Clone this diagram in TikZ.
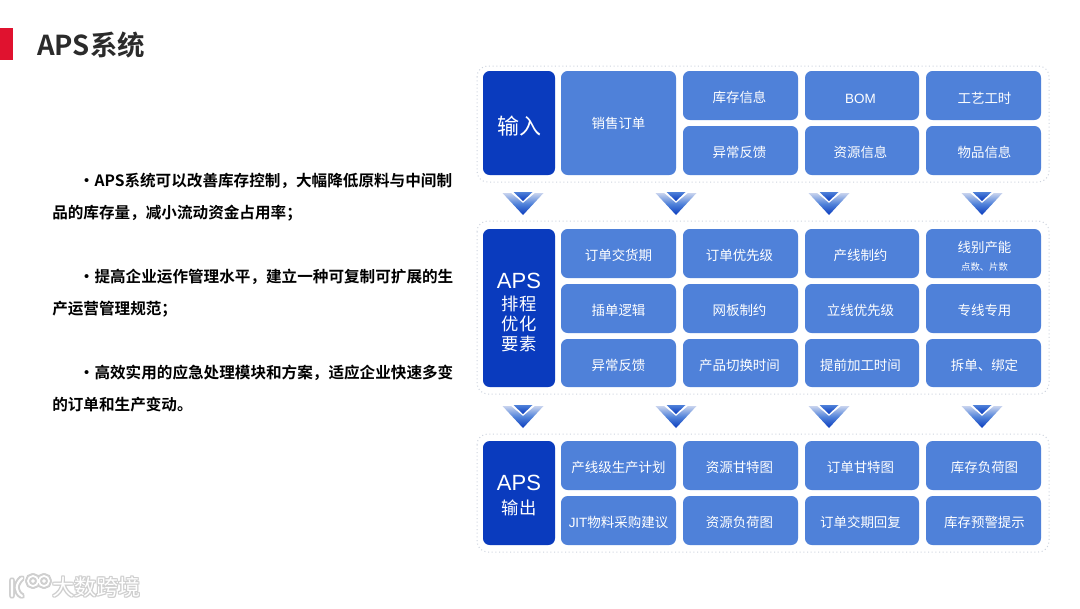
\documentclass[tikz,border=0pt]{standalone}
\usepackage{fontspec}
\setmainfont{Noto Sans CJK SC}[BoldFont=* Bold]
\newfontfamily\latinfont{Liberation Sans}
\definecolor{cellblue}{HTML}{4F81D9}
\definecolor{headblue}{HTML}{0A3BBE}
\definecolor{barred}{HTML}{E0122F}
\definecolor{titlegray}{HTML}{2B2B2B}
\definecolor{panelline}{HTML}{CDD3DE}
\definecolor{wmgray}{HTML}{CFCFCF}
\definecolor{arrowlight}{HTML}{C8D3EE}
\tikzset{
  x=0.75pt,y=-0.75pt,
  panelbox/.style={draw=panelline,dotted,line width=0.75pt,rounded corners=8pt,fill=white},
  cellbox/.style={fill=cellblue,rounded corners=5pt,inner sep=0pt,text=white,font=\fontsize{10.1pt}{12pt}\selectfont,align=center},
  headbox/.style={fill=headblue,rounded corners=5pt,inner sep=0pt,text=white,align=center},
  bodyline/.style={anchor=north west,inner sep=0pt,text=black,font=\bfseries\fontsize{11.7pt}{23.5pt}\selectfont,align=left},
}
\newcommand{\cellat}[6]{\node[cellbox,minimum width=#3*0.75pt,minimum height=#4*0.75pt] (#5) at (#1,#2) {\rule{0pt}{12pt}#6};}
\newcommand{\shiftB}{\hspace*{-1.5pt}}
\newcommand{\shiftC}{\hspace*{-2.25pt}}
\newcommand{\shiftD}{\hspace*{1.5pt}}
\newcommand{\dnarrow}[3]{%
  \shade[top color=arrowlight,bottom color=headblue,middle color=cellblue]
    (#1-20.5,#2+2) -- (#1-12,#2+2) -- (#1,#2+12) -- (#1+12,#2+2) -- (#1+20.5,#2+2) -- (#1,#2+24) -- cycle;
  \shade[top color=cellblue,bottom color=headblue]
    (#1-9.5,#2+1) -- (#1+9.5,#2+1) -- (#1,#2+10) -- cycle;
  \coordinate (#3) at (#1,#2);}
\begin{document}
\begin{tikzpicture}
\useasboundingbox (0,0) rectangle (1080,608);
\fill[white] (0,0) rectangle (1080,608);
\fill[barred] (0,28) rectangle (13,60);
\node[anchor=west,inner sep=0pt,text=titlegray,font=\bfseries\fontsize{20.6pt}{24pt}\selectfont] (title) at (37,45) {APS系统};
\node[bodyline] (p1) at (52,173) {\hspace*{20pt}•APS系统可以改善库存控制，大幅降低原料与中间制\\品的库存量，减小流动资金占用率；};
\node[bodyline] (p2) at (52,269) {\hspace*{20pt}•提高企业运作管理水平，建立一种可复制可扩展的生\\产运营管理规范；};
\node[bodyline] (p3) at (52,365) {\hspace*{20pt}•高效实用的应急处理模块和方案，适应企业快速多变\\的订单和生产变动。};
% panels
\draw[panelbox] (477,66) rectangle (1049,182);
\draw[panelbox] (477,221) rectangle (1049,394);
\draw[panelbox] (477,434) rectangle (1049,552);
% head cells
\node[headbox,minimum width=54pt,minimum height=78pt,font=\fontsize{16.5pt}{20pt}\selectfont] (h1) at (519,123) {\rule{0pt}{18pt}输入};
\node[headbox,minimum width=54pt,minimum height=118.5pt,font=\fontsize{13pt}{15pt}\selectfont] (h2) at (519,308) {\rule{0pt}{18pt}{\latinfont\fontsize{16.5pt}{20pt}\selectfont APS}\\[1.5pt]排程\\优化\\要素};
\node[headbox,minimum width=54pt,minimum height=78pt,font=\fontsize{13pt}{15pt}\selectfont] (h3) at (519,493) {\rule{0pt}{15pt}{\latinfont\fontsize{16.5pt}{20pt}\selectfont APS}\\[3pt]输出};
% row 1
\node[cellbox,minimum width=115*0.75pt,minimum height=104*0.75pt] (a0) at (618.5,123) {销售订单};
\cellat{740.5}{95.5}{115}{49}{a1}{\shiftB 库存信息}
\cellat{862}{95.5}{114}{49}{a2}{\shiftC {\latinfont BOM}}
\cellat{983.5}{95.5}{115}{49}{a3}{\shiftD 工艺工时}
\cellat{740.5}{150.5}{115}{49}{a4}{\shiftB 异常反馈}
\cellat{862}{150.5}{114}{49}{a5}{\shiftC 资源信息}
\cellat{983.5}{150.5}{115}{49}{a6}{\shiftD 物品信息}
% row 2
\cellat{618.5}{253.5}{115}{49}{b1}{订单交货期}
\cellat{740.5}{253.5}{115}{49}{b2}{\shiftB 订单优先级}
\cellat{862}{253.5}{114}{49}{b3}{\shiftC 产线制约}
\cellat{983.5}{253.5}{115}{49}{b4}{\shiftD 线别产能\\[1.5pt]\shiftD\fontsize{7pt}{8pt}\selectfont 点数、片数}
\cellat{618.5}{308.5}{115}{49}{b5}{插单逻辑}
\cellat{740.5}{308.5}{115}{49}{b6}{\shiftB 网板制约}
\cellat{862}{308.5}{114}{49}{b7}{\shiftC 立线优先级}
\cellat{983.5}{308.5}{115}{49}{b8}{\shiftD 专线专用}
\cellat{618.5}{363}{115}{48}{b9}{异常反馈}
\cellat{740.5}{363}{115}{48}{b10}{\shiftB 产品切换时间}
\cellat{862}{363}{114}{48}{b11}{\shiftC 提前加工时间}
\cellat{983.5}{363}{115}{48}{b12}{\shiftD 拆单、绑定}
% row 3
\cellat{618.5}{465.5}{115}{49}{c1}{产线级生产计划}
\cellat{740.5}{465.5}{115}{49}{c2}{\shiftB 资源甘特图}
\cellat{862}{465.5}{114}{49}{c3}{\shiftC 订单甘特图}
\cellat{983.5}{465.5}{115}{49}{c4}{\shiftD 库存负荷图}
\cellat{618.5}{520.5}{115}{49}{c5}{{\latinfont JIT}物料采购建议}
\cellat{740.5}{520.5}{115}{49}{c6}{\shiftB 资源负荷图}
\cellat{862}{520.5}{114}{49}{c7}{\shiftC 订单交期回复}
\cellat{983.5}{520.5}{115}{49}{c8}{\shiftD 库存预警提示}
% arrows
\dnarrow{523}{191}{u1}\dnarrow{676}{191}{u2}\dnarrow{829}{191}{u3}\dnarrow{982}{191}{u4}
\dnarrow{523}{404}{v1}\dnarrow{676}{404}{v2}\dnarrow{829}{404}{v3}\dnarrow{982}{404}{v4}
% watermark
\foreach \dx/\dy in {-1/0,1/0,0/-1,0/1,-1/-1,1/1,-1/1,1/-1}{
  \node[inner sep=0pt,text=wmgray,font=\fontsize{16.5pt}{18pt}\selectfont] at (96+\dx,587+\dy) {大数跨境};
  \draw[wmgray,line width=2.6pt,line cap=round] (12+\dx,580+\dy) -- (12+\dx,596+\dy) (22+\dx,578+\dy) .. controls (15+\dx,584+\dy) and (15+\dx,592+\dy) .. (22+\dx,596+\dy);
  \draw[wmgray,line width=2.4pt] (33+\dx,581+\dy) circle[radius=3.8pt] (44+\dx,581+\dy) circle[radius=3.8pt];
}
\node[inner sep=0pt,text=white,font=\fontsize{16.5pt}{18pt}\selectfont] (wm) at (96,587) {大数跨境};
\draw[white,line width=1.6pt,line cap=round] (12,580) -- (12,596) (22,578) .. controls (15,584) and (15,592) .. (22,596);
\draw[white,line width=1.3pt] (33,581) circle[radius=3.8pt] (44,581) circle[radius=3.8pt];
\end{tikzpicture}
\end{document}
